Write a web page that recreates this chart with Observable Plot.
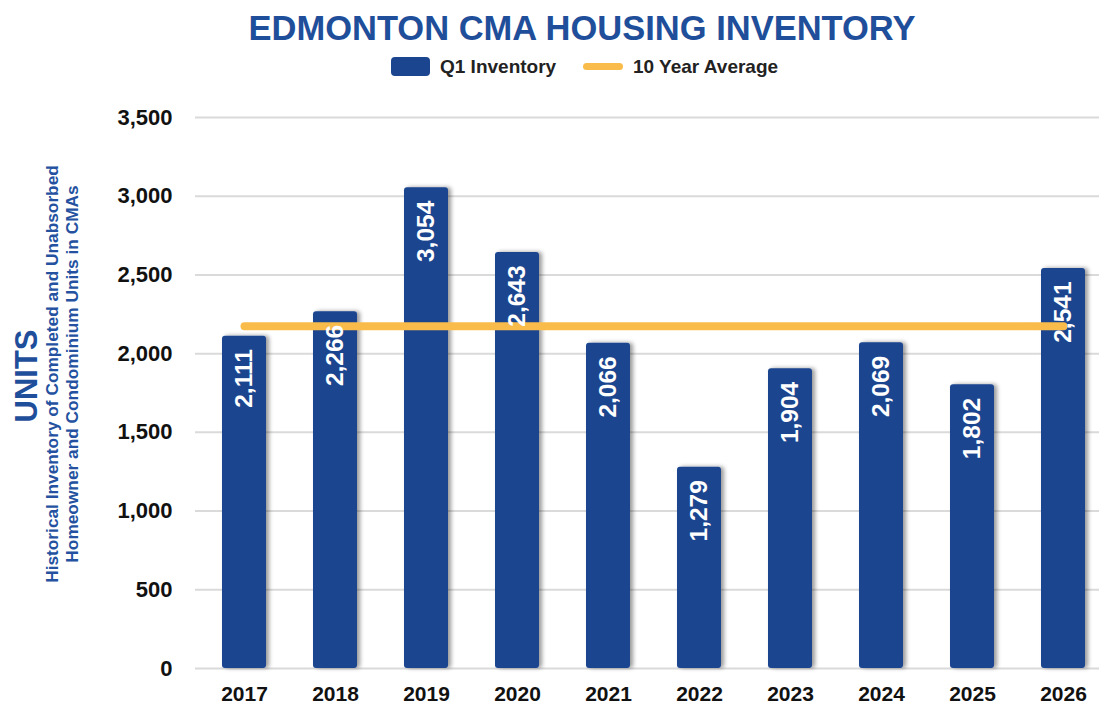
<!DOCTYPE html>
<html>
<head>
<meta charset="utf-8">
<script src="https://cdn.jsdelivr.net/npm/d3@7"></script>
<script src="https://cdn.jsdelivr.net/npm/@observablehq/plot@0.6"></script>
<style>
  html, body { margin: 0; padding: 0; background: #fff; overflow: hidden; }
  #wrap { position: relative; width: 1099px; height: 707px; overflow: hidden; font-family: "Liberation Sans", Arial, sans-serif; }
  .abs { position: absolute; white-space: nowrap; }
  #title { top: 11px; left: 582px; transform: translateX(-50%); font-weight: bold; font-size: 34.5px; line-height: 1; color: #1F4E9A; }
  .legtext { top: 57px; font-weight: bold; font-size: 19px; line-height: 19px; color: #222; }
  #units { left: -73px; top: 359px; width: 200px; height: 34px; line-height: 34px; text-align: center; transform: rotate(-90deg); font-weight: bold; font-size: 31px; color: #1F4E9A; }
  #ysub { left: -188px; top: 354px; width: 500px; height: 40px; line-height: 20px; text-align: center; transform: rotate(-90deg); font-size: 17.3px; font-weight: bold; color: #2452A0; }
  #chart { position: absolute; left: 0; top: 88px; }
</style>
</head>
<body>
<div id="wrap">
  <div id="title" class="abs">EDMONTON CMA HOUSING INVENTORY</div>
  <div class="abs" style="left:391px;top:57px;width:39px;height:19px;border-radius:4px;background:#1B458F;"></div>
  <div class="abs legtext" style="left:440px;">Q1 Inventory</div>
  <div class="abs" style="left:583px;top:63px;width:40px;height:7px;border-radius:4px;background:#F9BC4B;"></div>
  <div class="abs legtext" style="left:633px;">10 Year Average</div>
  <div id="units" class="abs">UNITS</div>
  <div id="ysub" class="abs">Historical Inventory of Completed and Unabsorbed<br>Homeowner and Condominium Units in CMAs</div>
  <div id="chart"></div>
</div>
<script>
const years = ["2017", "2018", "2019", "2020", "2021", "2022", "2023", "2024", "2025", "2026"];
const inventory = [2111, 2266, 3054, 2643, 2066, 1279, 1904, 2069, 1802, 2541];
const tenYearAverage = 2174;
const yTicks = [0, 500, 1000, 1500, 2000, 2500, 3000, 3500];

const barColor = "#1B458F";
const avgColor = "#F9BC4B";

const data = years.map((year, i) => ({year, value: inventory[i]}));
const fmt = d3.format(",d");

const chart = Plot.plot({
  width: 1099,
  height: 619,
  marginLeft: 195,
  marginRight: 0,
  marginTop: 29,
  marginBottom: 39,
  style: {fontFamily: "'Liberation Sans', Arial, sans-serif", background: "transparent", color: "#111", overflow: "visible"},
  x: {domain: years, range: [194, 1112], paddingInner: 0.52, paddingOuter: 0.26, label: null},
  y: {domain: [0, 3500], label: null},
  marks: [
    Plot.ruleY(yTicks, {stroke: "#dadada", strokeWidth: 2}),
    Plot.barY(data, {x: "year", y: "value", fill: barColor, rx: 3}),
    Plot.lineY(years, {x: d => d, y: () => tenYearAverage, stroke: avgColor, strokeWidth: 8, strokeLinecap: "round"}),
    Plot.text(data, {x: "year", y: "value", text: d => fmt(d.value), rotate: -90, textAnchor: "end", lineAnchor: "middle", dy: 13, fill: "white", fontSize: 24.5, fontWeight: "bold"}),
    Plot.axisY(yTicks, {tickSize: 0, tickPadding: 23, tickFormat: d => fmt(d), fontSize: 22, fontWeight: "bold", label: null}),
    Plot.axisX({tickSize: 0, tickPadding: 18, fontSize: 21, fontWeight: "bold", label: null})
  ]
});

// drop shadow for bars
const ns = "http://www.w3.org/2000/svg";
const defs = document.createElementNS(ns, "defs");
const filter = document.createElementNS(ns, "filter");
filter.setAttribute("id", "barShadow");
filter.setAttribute("x", "-20%"); filter.setAttribute("y", "-20%");
filter.setAttribute("width", "150%"); filter.setAttribute("height", "140%");
const drop = document.createElementNS(ns, "feDropShadow");
drop.setAttribute("dx", "3"); drop.setAttribute("dy", "0");
drop.setAttribute("stdDeviation", "2");
drop.setAttribute("flood-color", "#000"); drop.setAttribute("flood-opacity", "0.4");
filter.appendChild(drop); defs.appendChild(filter);
chart.insertBefore(defs, chart.firstChild);
const barG = chart.querySelector('g[aria-label="bar"]');
if (barG) barG.setAttribute("filter", "url(#barShadow)");

document.getElementById("chart").appendChild(chart);
</script>
</body>
</html>
